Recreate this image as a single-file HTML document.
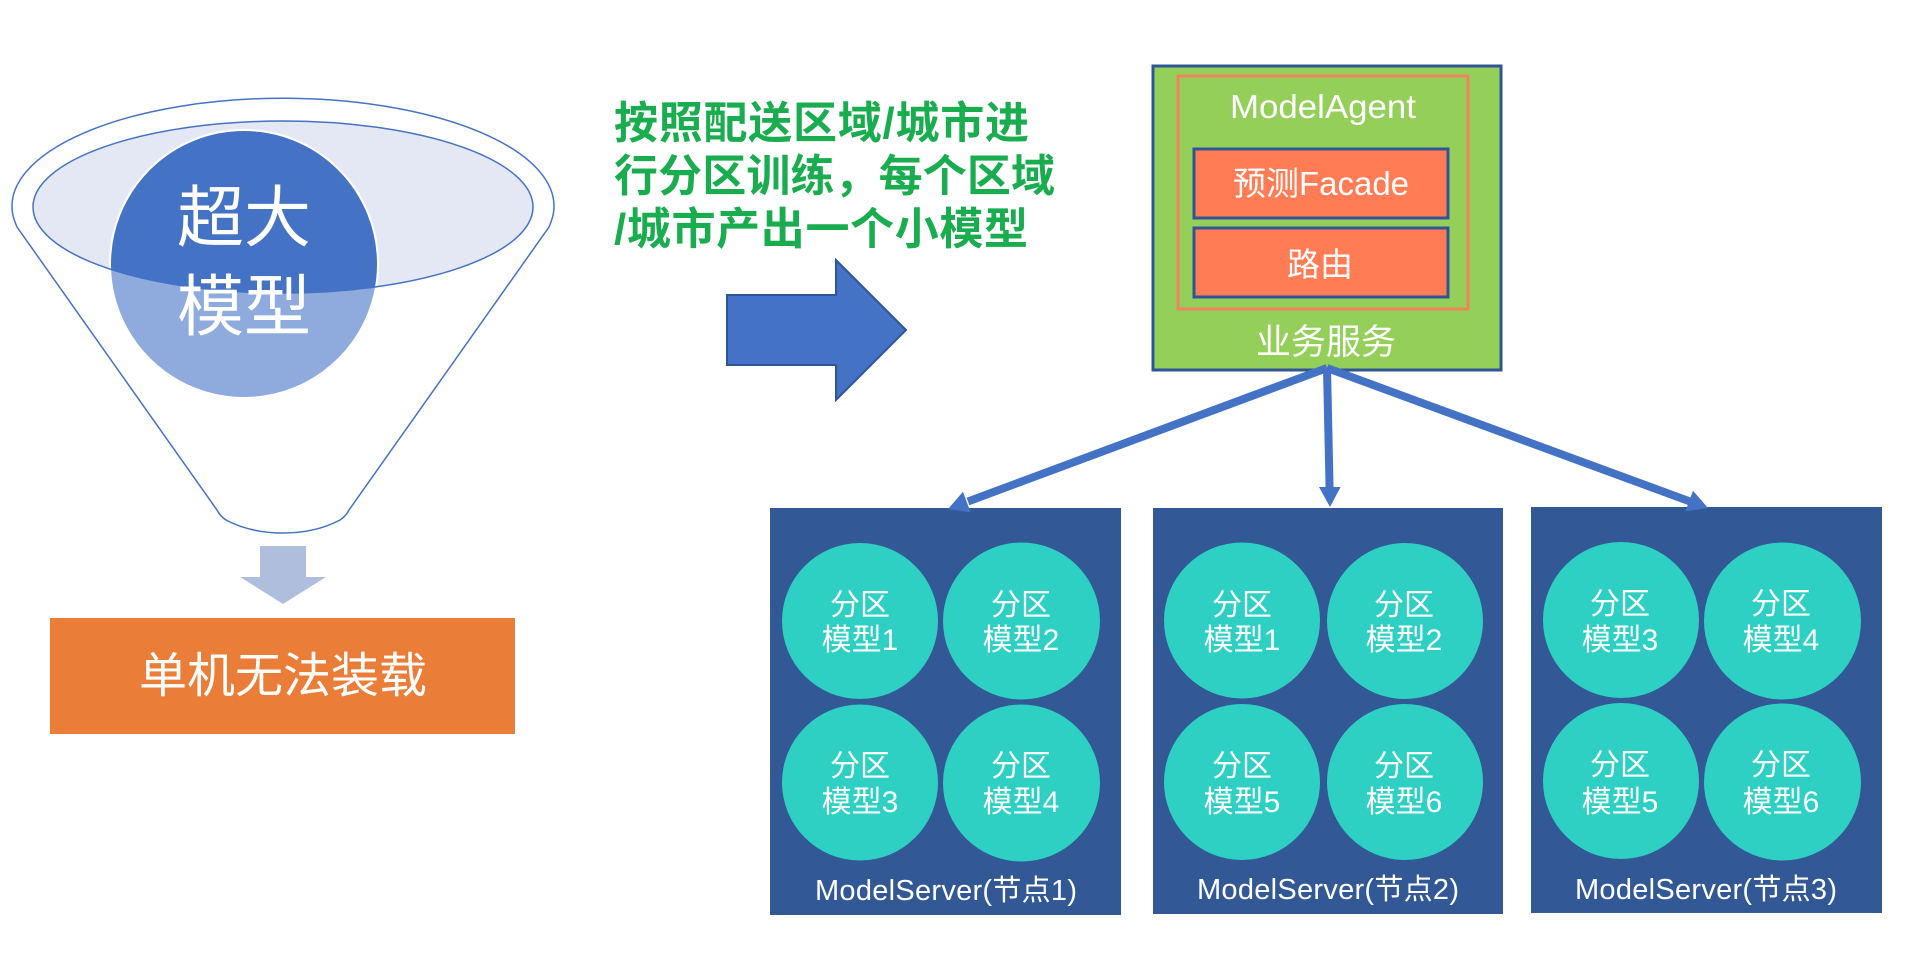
<!DOCTYPE html>
<html lang="zh">
<head>
<meta charset="utf-8">
<title>分区模型</title>
<style>
html,body{margin:0;padding:0;background:#fff;width:1920px;height:955px;overflow:hidden}
svg{display:block}
text{font-family:"Liberation Sans","Noto Sans CJK SC",sans-serif;fill:#fff;text-anchor:middle}
.c{font-size:30px}
.l{font-size:29px}
.g{font-size:44px;font-weight:bold;fill:#19ad4f;text-anchor:start}
</style>
</head>
<body>
<svg width="1920" height="955" viewBox="0 0 1920 955" xmlns="http://www.w3.org/2000/svg">
<defs>
<clipPath id="ec"><ellipse cx="283" cy="207" rx="250" ry="86"/></clipPath>
</defs>
<rect width="1920" height="955" fill="#fff"/>

<!-- Funnel -->
<path d="M12.7 214A271 108 0 1 1 553.3 214Q552 220 549 227L349 510Q346 516 340 520C325 528 305 533 283 533C261 533 241 528 226 520Q220 516 217 510L17 227Q14 220 12.7 214Z" fill="#fff" stroke="#4472c4" stroke-width="1.5"/>
<ellipse cx="283" cy="207" rx="250" ry="86" fill="#e4e8f4"/>
<ellipse cx="244" cy="264" rx="134" ry="134" fill="#8faadc" stroke="#fff" stroke-width="2"/>
<ellipse cx="244" cy="264" rx="134" ry="134" fill="#4472c4" stroke="#fff" stroke-width="2" clip-path="url(#ec)"/>
<ellipse cx="283" cy="207" rx="250" ry="86" fill="none" stroke="#4472c4" stroke-width="1.5"/>
<text x="244" y="241" font-size="67">超大</text>
<text x="244" y="330" font-size="67">模型</text>

<!-- Down arrow -->
<path d="M260 546H306V577H326L283 604L240 577H260Z" fill="#b0bedd"/>

<!-- Orange box -->
<rect x="50" y="618" width="465" height="116" fill="#ea7d38"/>
<text x="283" y="692" font-size="48">单机无法装载</text>

<!-- Green text -->
<text class="g" x="614" y="138" textLength="415">按照配送区域/城市进</text>
<text class="g" x="614" y="191" textLength="441">行分区训练，每个区域</text>
<text class="g" x="614" y="244" textLength="414">/城市产出一个小模型</text>

<!-- Big arrow -->
<path d="M727 295H836V260L906 330L836 400V365H727Z" fill="#4472c4" stroke="#2f5597" stroke-width="2"/>

<!-- Service box -->
<rect x="1153" y="66" width="348" height="304" fill="#94cf5a" stroke="#2f5597" stroke-width="3"/>
<rect x="1178" y="76" width="290" height="233" fill="none" stroke="#f0855a" stroke-width="3"/>
<text x="1323" y="118" font-size="33" textLength="186" lengthAdjust="spacingAndGlyphs">ModelAgent</text>
<rect x="1194" y="149" width="254" height="69" fill="#ff7c55" stroke="#2f5597" stroke-width="3"/>
<text x="1321" y="195" font-size="33">预测Facade</text>
<rect x="1194" y="228" width="254" height="69" fill="#ff7c55" stroke="#2f5597" stroke-width="3"/>
<text x="1320" y="276" font-size="33">路由</text>
<text x="1326" y="354" font-size="35">业务服务</text>

<!-- Server boxes -->
<rect x="770" y="508" width="351" height="407" fill="#325895"/>
<rect x="1153" y="508" width="350" height="406" fill="#325895"/>
<rect x="1531" y="507" width="351" height="406" fill="#325895"/>

<!-- Connectors -->
<g fill="none" stroke="#4472c4" stroke-width="8">
<line x1="1327" y1="368" x2="968" y2="501.5"/>
<line x1="1327" y1="368" x2="1329.6" y2="489"/>
<line x1="1327" y1="368" x2="1690" y2="501.5"/>
</g>
<g fill="#4472c4">
<path d="M948 509L963 491.8L970.6 512.4Z"/>
<path d="M1330 507L1319 487H1340.6Z"/>
<path d="M1708 508L1693 490.8L1685.4 511.4Z"/>
</g>

<!-- Circles -->
<g fill="#2fd0c4">
<circle cx="860" cy="621" r="78"/><circle cx="1021.5" cy="621" r="78.5"/><circle cx="860" cy="782.5" r="78"/><circle cx="1021.5" cy="783" r="78.5"/>
<circle cx="1242" cy="620.5" r="78"/><circle cx="1405" cy="621" r="78"/><circle cx="1242" cy="782" r="78"/><circle cx="1405" cy="782" r="78"/>
<circle cx="1621" cy="620" r="78"/><circle cx="1782.5" cy="621" r="78.5"/><circle cx="1621" cy="781" r="78"/><circle cx="1782.5" cy="782" r="78.5"/>
</g>

<g>
<text class="c" x="860" y="615">分区</text><text class="c" x="860" y="650">模型1</text>
<text class="c" x="1021" y="615">分区</text><text class="c" x="1021" y="650">模型2</text>
<text class="c" x="860" y="776">分区</text><text class="c" x="860" y="812">模型3</text>
<text class="c" x="1021" y="776">分区</text><text class="c" x="1021" y="812">模型4</text>

<text class="c" x="1242" y="615">分区</text><text class="c" x="1242" y="650">模型1</text>
<text class="c" x="1404" y="615">分区</text><text class="c" x="1404" y="650">模型2</text>
<text class="c" x="1242" y="776">分区</text><text class="c" x="1242" y="812">模型5</text>
<text class="c" x="1404" y="776">分区</text><text class="c" x="1404" y="812">模型6</text>

<text class="c" x="1620" y="614">分区</text><text class="c" x="1620" y="650">模型3</text>
<text class="c" x="1781" y="614">分区</text><text class="c" x="1781" y="650">模型4</text>
<text class="c" x="1620" y="775">分区</text><text class="c" x="1620" y="812">模型5</text>
<text class="c" x="1781" y="775">分区</text><text class="c" x="1781" y="812">模型6</text>
</g>

<text class="l" x="946" y="900" textLength="262">ModelServer(节点1)</text>
<text class="l" x="1328" y="899" textLength="262">ModelServer(节点2)</text>
<text class="l" x="1706" y="899" textLength="262">ModelServer(节点3)</text>
</svg>
</body>
</html>
